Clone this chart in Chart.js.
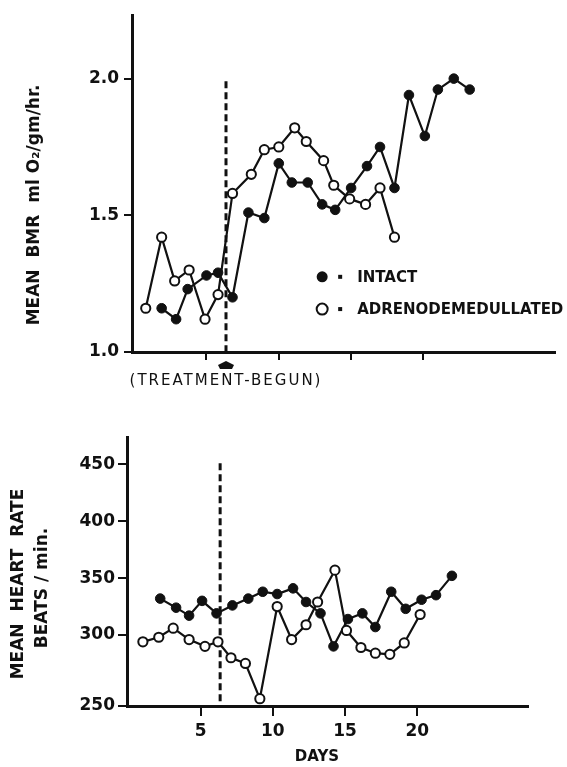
<!DOCTYPE html>
<html>
<head>
<meta charset="utf-8">
<script src="https://cdn.jsdelivr.net/npm/chart.js@4.4.0/dist/chart.umd.min.js"></script>
<style>
html, body { margin: 0; padding: 0; background: #fff; }
canvas { position: absolute; left: 0; }
#bmrChart { top: 0; }
#hrChart { top: 420px; }
</style>
</head>
<body>
<canvas id="bmrChart" width="567" height="400"></canvas>
<canvas id="hrChart" width="567" height="347"></canvas>
<script>
/* Day the treatment began (dashed line) */
const treatmentDay = 6.35;

/* Upper panel: mean BMR, ml O2/gm/hr */
const bmrIntactDays = [1.9, 2.9, 3.7, 5.0, 5.8, 6.8, 7.9, 9.0, 10.0, 10.9, 12.0, 13.0, 13.9, 15.0, 16.1, 17.0, 18.0, 19.0, 20.1, 21.0, 22.1, 23.2];
const bmrIntact = [1.16, 1.12, 1.23, 1.28, 1.29, 1.20, 1.51, 1.49, 1.69, 1.62, 1.62, 1.54, 1.52, 1.60, 1.68, 1.75, 1.60, 1.94, 1.79, 1.96, 2.00, 1.96];
const bmrAdxDays = [0.8, 1.9, 2.8, 3.8, 4.9, 5.8, 6.8, 8.1, 9.0, 10.0, 11.1, 11.9, 13.1, 13.8, 14.9, 16.0, 17.0, 18.0];
const bmrAdx = [1.16, 1.42, 1.26, 1.30, 1.12, 1.21, 1.58, 1.65, 1.74, 1.75, 1.82, 1.77, 1.70, 1.61, 1.56, 1.54, 1.60, 1.42];
const bmrTicks = [1.0, 1.5, 2.0];

/* Lower panel: mean heart rate, beats/min */
const hrIntactDays = [2.2, 3.3, 4.2, 5.1, 6.1, 7.2, 8.3, 9.3, 10.3, 11.4, 12.3, 13.3, 14.2, 15.2, 16.2, 17.1, 18.2, 19.2, 20.3, 21.3, 22.4];
const hrIntact = [332, 324, 317, 330, 319, 326, 332, 338, 336, 341, 329, 319, 290, 314, 319, 307, 338, 323, 331, 335, 352];
const hrAdxDays = [1.0, 2.1, 3.1, 4.2, 5.3, 6.2, 7.1, 8.1, 9.1, 10.3, 11.3, 12.3, 13.1, 14.3, 15.1, 16.1, 17.1, 18.1, 19.1, 20.2];
const hrAdx = [294, 298, 306, 296, 290, 294, 280, 275, 244, 325, 296, 309, 329, 357, 304, 289, 284, 283, 293, 318];
const hrTicks = [300, 350, 400, 450];
const dayTicks = [5, 10, 15, 20];

const INK = '#111';
const FONT = '"DejaVu Sans", sans-serif';
Chart.defaults.font.family = FONT;
Chart.defaults.color = INK;

function pts(xs, ys) {
    return xs.map((x, i) => ({ x: x, y: ys[i] }));
}

function filledSet(data) {
    return {
        data: data, borderColor: INK, borderWidth: 2.2,
        pointRadius: 4.8, pointBackgroundColor: INK, pointBorderColor: INK,
        pointBorderWidth: 1, tension: 0, order: 2
    };
}

function openSet(data) {
    return {
        data: data, borderColor: INK, borderWidth: 2.2,
        pointRadius: 4.6, pointBackgroundColor: '#fff', pointBorderColor: INK,
        pointBorderWidth: 2, tension: 0, order: 1
    };
}

function dashSet(y0, y1) {
    return {
        data: [{ x: treatmentDay, y: y0 }, { x: treatmentDay, y: y1 }],
        borderColor: INK, borderWidth: 3, borderDash: [7, 4],
        pointRadius: 0, order: 3
    };
}

const axisGrid = { display: true, drawOnChartArea: false, drawTicks: true, color: INK, lineWidth: 2 };
const axisBorder = { display: true, color: INK, width: 3 };

/* Text and marks around the upper panel */
const bmrNotes = {
    id: 'bmrNotes',
    afterDraw(chart) {
        const ctx = chart.ctx;
        const x = chart.scales.x, y = chart.scales.y;
        ctx.save();
        ctx.fillStyle = INK;
        ctx.textBaseline = 'middle';

        ctx.save();
        ctx.font = 'bold 17px ' + FONT;
        ctx.textAlign = 'center';
        ctx.translate(35, 205);
        ctx.rotate(-Math.PI / 2);
        ctx.fillText('MEAN  BMR  ml O\u2082/gm/hr.', 0, 0);
        ctx.restore();

        // arrow under the axis
        const ax = x.getPixelForValue(treatmentDay);
        ctx.beginPath();
        ctx.moveTo(ax, 361);
        ctx.lineTo(ax + 8, 365);
        ctx.lineTo(ax + 6, 369);
        ctx.lineTo(ax - 6, 369);
        ctx.lineTo(ax - 8, 365);
        ctx.closePath();
        ctx.fill();

        ctx.font = '15px ' + FONT;
        ctx.textAlign = 'center';
        ctx.letterSpacing = '2px';
        ctx.fillText('(TREATMENT-BEGUN)', 226, 381);
        ctx.letterSpacing = '0px';

        // key
        const kx = x.getPixelForValue(13);
        const rows = [[1.275, 'INTACT', true], [1.157, 'ADRENODEMEDULLATED', false]];
        ctx.font = 'bold 15px ' + FONT;
        ctx.textAlign = 'left';
        rows.forEach(r => {
            const ky = y.getPixelForValue(r[0]);
            ctx.beginPath();
            ctx.arc(kx, ky, 5.5, 0, Math.PI * 2);
            if (r[2]) {
                ctx.fill();
            } else {
                ctx.fillStyle = '#fff';
                ctx.fill();
                ctx.lineWidth = 2;
                ctx.strokeStyle = INK;
                ctx.stroke();
                ctx.fillStyle = INK;
            }
            ctx.fillRect(kx + 16, ky - 2, 4, 4);
            ctx.fillText(r[1], kx + 35, ky + 1);
        });
        ctx.restore();
    }
};

/* Text around the lower panel */
const hrNotes = {
    id: 'hrNotes',
    afterDraw(chart) {
        const ctx = chart.ctx;
        ctx.save();
        ctx.fillStyle = INK;
        ctx.textBaseline = 'middle';
        ctx.textAlign = 'center';
        ctx.font = 'bold 17px ' + FONT;
        ctx.save();
        ctx.translate(19, 164);
        ctx.rotate(-Math.PI / 2);
        ctx.fillText('MEAN  HEART  RATE', 0, 0);
        ctx.restore();
        ctx.save();
        ctx.translate(43, 168);
        ctx.rotate(-Math.PI / 2);
        ctx.fillText('BEATS / min.', 0, 0);
        ctx.restore();
        ctx.font = 'bold 15px ' + FONT;
        ctx.fillText('DAYS', 317, 337);
        ctx.restore();
    }
};

new Chart(document.getElementById('bmrChart'), {
    type: 'line',
    data: {
        datasets: [
            filledSet(pts(bmrIntactDays, bmrIntact)),
            openSet(pts(bmrAdxDays, bmrAdx)),
            dashSet(1.99, 1.0)
        ]
    },
    options: {
        responsive: false,
        animation: false,
        events: [],
        layout: { padding: { top: 7, right: 12, left: 0, bottom: 0 } },
        plugins: { legend: { display: false }, tooltip: { enabled: false } },
        scales: {
            x: {
                type: 'linear', min: -0.15, max: 29.1,
                afterBuildTicks: s => { s.ticks = dayTicks.map(v => ({ value: v })); },
                afterFit: s => { s.height = 48; },
                ticks: { callback: () => '' },
                grid: Object.assign({}, axisGrid, { tickLength: 8 }),
                border: axisBorder
            },
            y: {
                min: 1.0, max: 2.232,
                afterBuildTicks: s => { s.ticks = bmrTicks.map(v => ({ value: v })); },
                afterFit: s => { s.width = 132; },
                ticks: { callback: v => v.toFixed(1), font: { size: 17, weight: 'bold' }, padding: 5, color: INK },
                grid: Object.assign({}, axisGrid, { tickLength: 8 }),
                border: axisBorder
            }
        }
    },
    plugins: [bmrNotes]
});

const hrMin = 237.6;
new Chart(document.getElementById('hrChart'), {
    type: 'line',
    data: {
        datasets: [
            filledSet(pts(hrIntactDays, hrIntact)),
            openSet(pts(hrAdxDays, hrAdx)),
            dashSet(451, hrMin)
        ]
    },
    options: {
        responsive: false,
        animation: false,
        events: [],
        layout: { padding: { top: 17, right: 39, left: 0, bottom: 0 } },
        plugins: { legend: { display: false }, tooltip: { enabled: false } },
        scales: {
            x: {
                type: 'linear', min: -0.1, max: 27.67,
                afterBuildTicks: s => { s.ticks = dayTicks.map(v => ({ value: v })); },
                afterFit: s => { s.height = 61; },
                ticks: { font: { size: 17, weight: 'bold' }, padding: 5, color: INK, maxRotation: 0 },
                grid: Object.assign({}, axisGrid, { tickLength: 10 }),
                border: axisBorder
            },
            y: {
                min: hrMin, max: 474,
                /* broken axis: the bottom of the axis is labelled 250 */
                afterBuildTicks: s => { s.ticks = [{ value: hrMin }].concat(hrTicks.map(v => ({ value: v }))); },
                afterFit: s => { s.width = 127; },
                ticks: { callback: v => (v < 300 ? '250' : String(v)), font: { size: 17, weight: 'bold' }, padding: 3, color: INK },
                grid: Object.assign({}, axisGrid, { tickLength: 9 }),
                border: axisBorder
            }
        }
    },
    plugins: [hrNotes]
});
</script>
</body>
</html>
